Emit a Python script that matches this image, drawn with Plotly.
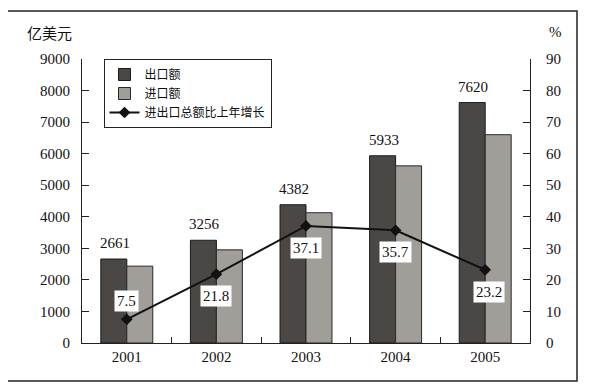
import plotly.graph_objects as go

years = ["2001", "2002", "2003", "2004", "2005"]
exports = [2661, 3256, 4382, 5933, 7620]
imports = [2436, 2952, 4128, 5614, 6601]
growth = [7.5, 21.8, 37.1, 35.7, 23.2]
left_ticks = list(range(0, 9001, 1000))
right_ticks = list(range(0, 91, 10))

SERIF = "Liberation Serif"
CJK = "Noto Sans CJK SC"

fig = go.Figure()
fig.add_trace(go.Bar(
    x=years, y=exports, name="出口额",
    marker=dict(color="#4a4744", line=dict(color="#1a1a1a", width=1)),
))
fig.add_trace(go.Bar(
    x=years, y=imports, name="进口额",
    marker=dict(color="#a19e99", line=dict(color="#2a2a2a", width=1)),
))
fig.add_trace(go.Scatter(
    x=years, y=growth, name="进出口总额比上年增长", yaxis="y2",
    mode="lines+markers",
    line=dict(color="#111111", width=2),
    marker=dict(symbol="diamond", size=9, color="#111111"),
))

annotations = []
for i, v in enumerate(exports):
    annotations.append(dict(
        x=i, y=v, xref="x", yref="y", xshift=-12, yshift=6,
        text=str(v), showarrow=False, yanchor="bottom",
        font=dict(family=SERIF, size=15, color="#111111"),
    ))
for i, g in enumerate(growth):
    shift = 18 if i == 0 else -22
    annotations.append(dict(
        x=i, y=g, xref="x", yref="y2", yshift=shift,
        xshift=4 if i == 4 else 0,
        text=f"{g}", showarrow=False,
        bgcolor="white", borderpad=2,
        font=dict(family=SERIF, size=15, color="#111111"),
    ))
annotations.append(dict(
    x=-0.073, y=1.095, xref="paper", yref="paper", text="亿美元",
    xanchor="center", yanchor="middle",
    showarrow=False, font=dict(family=CJK, size=15, color="#111111"),
))
annotations.append(dict(
    x=1.058, y=1.095, xref="paper", yref="paper", text="%",
    xanchor="center", yanchor="middle",
    showarrow=False, font=dict(family=SERIF, size=15, color="#111111"),
))

fig.update_layout(
    width=585, height=384,
    margin=dict(l=74, r=63, t=51, b=49),
    paper_bgcolor="white", plot_bgcolor="white",
    barmode="group", bargap=0.42, bargroupgap=0,
    showlegend=True,
    legend=dict(
        x=0.048, y=1.0, xanchor="left", yanchor="top",
        bordercolor="#222222", borderwidth=1, bgcolor="white",
        font=dict(family=CJK, size=12, color="#111111"),
        tracegroupgap=0, itemwidth=30,
    ),
    font=dict(family=SERIF, size=15, color="#111111"),
    xaxis=dict(
        type="category", range=[-0.5, len(years) - 0.5],
        showline=True, linecolor="#222222", linewidth=1,
        ticks="inside", tickson="boundaries", ticklen=6, tickcolor="#222222",
        showgrid=False, tickfont=dict(family=SERIF, size=15),
    ),
    yaxis=dict(
        range=[0, 9000], tickvals=left_ticks, showgrid=False, zeroline=False,
        showline=True, linecolor="#222222", linewidth=1,
        ticks="inside", ticklen=7, tickcolor="#222222",
        tickfont=dict(family=SERIF, size=15), ticklabelstandoff=8,
    ),
    yaxis2=dict(
        range=[0, 90], tickvals=right_ticks, overlaying="y", side="right",
        showgrid=False, zeroline=False,
        showline=True, linecolor="#222222", linewidth=1,
        ticks="inside", ticklen=7, tickcolor="#222222",
        tickfont=dict(family=SERIF, size=15), ticklabelstandoff=12,
    ),
    annotations=annotations,
    shapes=[dict(
        type="rect", xref="paper", yref="paper",
        x0=-0.1674, x1=1.1049, y0=-0.1338, y1=1.169,
        line=dict(color="#222222", width=1.5), layer="below",
    )],
)

fig.write_html("out.html")
